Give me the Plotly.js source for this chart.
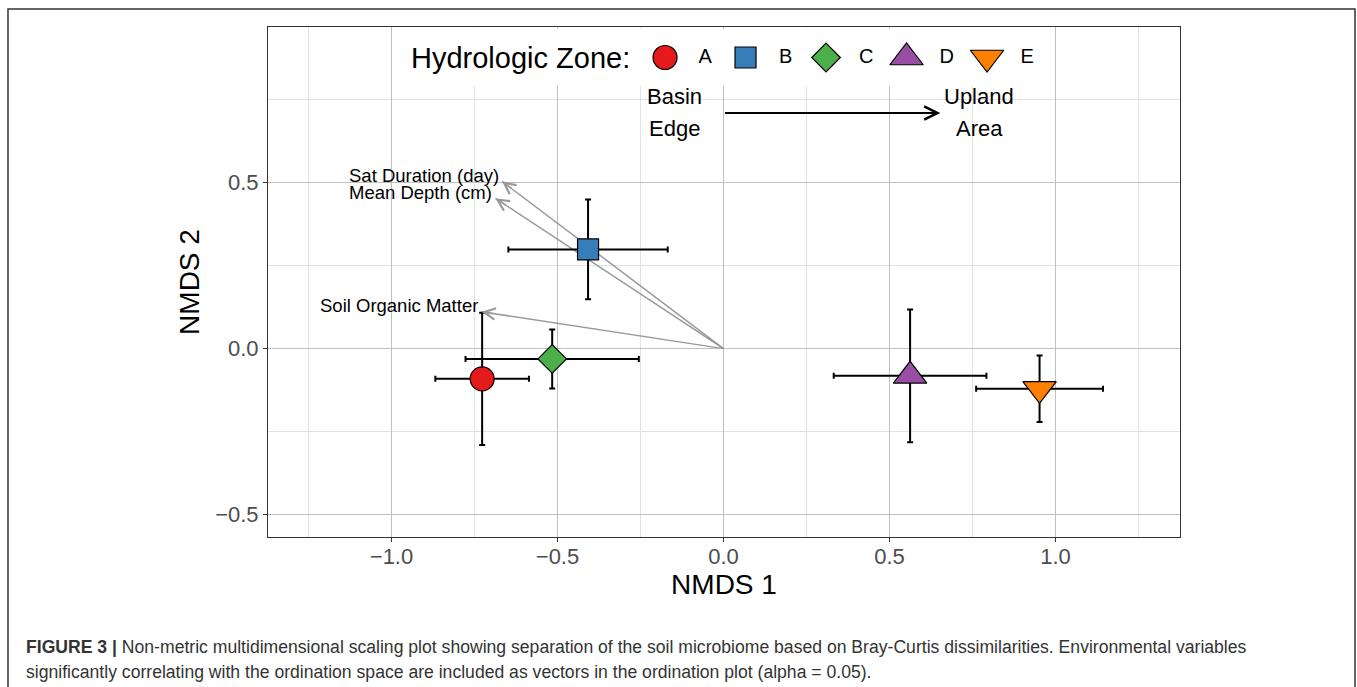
<!DOCTYPE html>
<html>
<head>
<meta charset="utf-8">
<script src="https://cdn.plot.ly/plotly-3.0.1.min.js"></script>
<style>
html, body { margin: 0; padding: 0; background: #fff; }
#chart { width: 1357px; height: 687px; }
</style>
</head>
<body>
<div id="chart"></div>
<script>
// ---------- data ----------
const zones = ['A', 'B', 'C', 'D', 'E'];
const nmds1 = [-0.727, -0.408, -0.516, 0.562, 0.952];
const nmds2 = [-0.091, 0.299, -0.031, -0.082, -0.121];
const nmds1Err = [0.141, 0.240, 0.261, 0.230, 0.191];
const nmds2Err = [0.199, 0.150, 0.089, 0.200, 0.100];

const envVars = ['Sat Duration (day)', 'Mean Depth (cm)', 'Soil Organic Matter'];
const envNmds1 = [-0.667, -0.687, -0.729];
const envNmds2 = [0.504, 0.453, 0.111];

const gradientLabels = [['Basin', 'Edge'], ['Upland', 'Area']];
const gradientLabelX = [-0.148, 0.771];
const gradientArrowX = [0.0, 0.653];
const gradientY = 0.71;

const xTickVals = [-1.0, -0.5, 0.0, 0.5, 1.0];
const xTickText = ['\u22121.0', '\u22120.5', '0.0', '0.5', '1.0'];
const xMinorVals = [-1.25, -0.75, -0.25, 0.25, 0.75, 1.25];
const yTickVals = [-0.5, 0.0, 0.5];
const yTickText = ['\u22120.5', '0.0', '0.5'];
const yMinorVals = [-0.25, 0.25, 0.75];

const legendTitle = 'Hydrologic Zone:';
const captionLines = [
  '<b>FIGURE 3 |</b> Non-metric multidimensional scaling plot showing separation of the soil microbiome based on Bray-Curtis dissimilarities. Environmental variables',
  'significantly correlating with the ordination space are included as vectors in the ordination plot (alpha = 0.05).'
];

// ---------- styles ----------
const FONT = 'Liberation Sans, Arial, Helvetica, sans-serif';
const zoneColors = ['#E41A1C', '#377EB8', '#4DAF4A', '#984EA3', '#FF7F00'];
const zoneSymbols = ['circle', 'square', 'diamond', 'triangle-up', 'triangle-down'];
const zoneSizes = [24, 21, 22, 29, 29];

// legend key box (in legend-row units) used only as a white backdrop
const legendBoxX = [-3.29, 4.72];
const legendBoxY = [-0.93, 0.95];

// ---------- traces ----------
const shaftX = [], shaftY = [];
envNmds1.forEach((v, i) => { shaftX.push(0, v, null); shaftY.push(0, envNmds2[i], null); });

const markerStyle = {
  color: zoneColors, symbol: zoneSymbols, size: zoneSizes, opacity: 1,
  line: { color: '#000', width: 1.2 }
};

const traces = [
  {
    type: 'scatter', mode: 'lines', x: shaftX, y: shaftY,
    line: { color: '#9a9a9a', width: 1.5 }, hoverinfo: 'skip', showlegend: false
  },
  {
    type: 'scatter', mode: 'markers', x: nmds1, y: nmds2, text: zones,
    error_x: { type: 'data', array: nmds1Err, color: '#000', thickness: 2, width: 3 },
    error_y: { type: 'data', array: nmds2Err, color: '#000', thickness: 2, width: 3 },
    marker: markerStyle, showlegend: false, cliponaxis: false
  },
  {
    type: 'scatter', mode: 'lines', xaxis: 'x2', yaxis: 'y2',
    x: [legendBoxX[0], legendBoxX[1], legendBoxX[1], legendBoxX[0], legendBoxX[0]],
    y: [legendBoxY[0], legendBoxY[0], legendBoxY[1], legendBoxY[1], legendBoxY[0]],
    fill: 'toself', fillcolor: '#ffffff', line: { width: 0, color: 'rgba(0,0,0,0)' },
    hoverinfo: 'skip', showlegend: false
  },
  {
    type: 'scatter', mode: 'markers', xaxis: 'x2', yaxis: 'y2',
    x: zones.map((z, i) => i), y: zones.map(() => 0),
    marker: markerStyle, showlegend: false, hoverinfo: 'skip', cliponaxis: false
  },
  {
    type: 'scatter', mode: 'text', xaxis: 'x2', yaxis: 'y2',
    x: zones.map((z, i) => i + 0.5), y: zones.map(() => 0), text: zones,
    textposition: 'middle center', textfont: { size: 20, color: '#000', family: FONT },
    showlegend: false, hoverinfo: 'skip', cliponaxis: false
  }
];

// ---------- annotations ----------
const annotations = [];
const HEAD = 14;
envVars.forEach((name, i) => {
  const x = envNmds1[i], y = envNmds2[i];
  const n = Math.sqrt(x * x + y * y);
  annotations.push({
    x: x, y: y, xref: 'x', yref: 'y', axref: 'pixel', ayref: 'pixel',
    ax: -x / n * HEAD, ay: y / n * HEAD, text: '', showarrow: true,
    arrowhead: 5, arrowsize: 1.5, arrowwidth: 1.5, arrowcolor: '#9a9a9a', standoff: 0, startstandoff: 0
  });
  annotations.push({
    x: x, y: y, xref: 'x', yref: 'y', text: name, showarrow: false,
    xanchor: 'right', yanchor: 'middle', xshift: -1, yshift: 6,
    font: { size: 18.5, color: '#000', family: FONT }
  });
});

annotations.push({
  x: gradientArrowX[1], y: gradientY, xref: 'x', yref: 'y',
  ax: gradientArrowX[0], ay: gradientY, axref: 'x', ayref: 'y',
  text: '', showarrow: true, arrowhead: 5, arrowsize: 1.3, arrowwidth: 2, arrowcolor: '#000',
  standoff: 0, startstandoff: 0
});
gradientLabels.forEach((lines, i) => {
  lines.forEach((ln, j) => {
    annotations.push({
      x: gradientLabelX[i], y: gradientY, xref: 'x', yref: 'y', text: ln, showarrow: false,
      xanchor: 'center', yanchor: 'middle', yshift: j === 0 ? 16 : -16,
      font: { size: 22, color: '#000', family: FONT }
    });
  });
});

annotations.push({
  x: -0.41, y: 0, xref: 'x2', yref: 'y2', text: legendTitle, showarrow: false,
  xanchor: 'right', yanchor: 'middle', font: { size: 29, color: '#000', family: FONT }
});

captionLines.forEach((ln, i) => {
  annotations.push({
    x: -0.2675, y: i === 0 ? -0.2157 : -0.2647, xref: 'paper', yref: 'paper',
    text: ln, showarrow: false, xanchor: 'left', yanchor: 'middle', align: 'left',
    font: { size: 17.6, color: '#333333', family: FONT }
  });
});

// ---------- layout ----------
const axisCommon = {
  tickmode: 'array', ticks: 'outside', ticklen: 4, tickwidth: 1, tickcolor: '#333',
  tickfont: { size: 22, color: '#4d4d4d', family: FONT },
  showgrid: true, gridcolor: '#c0c0c0', gridwidth: 1.5,
  zeroline: false, showline: true, mirror: true, linecolor: '#333', linewidth: 1,
  automargin: false, fixedrange: true
};

const layout = {
  width: 1357, height: 687,
  margin: { l: 268, r: 177, t: 27, b: 150 },
  paper_bgcolor: '#fff', plot_bgcolor: 'rgba(0,0,0,0)',
  font: { family: FONT, color: '#000' },
  showlegend: false,
  xaxis: Object.assign({}, axisCommon, {
    range: [-1.372, 1.375], tickvals: xTickVals, ticktext: xTickText, ticklabelstandoff: -4,
    minor: { tickvals: xMinorVals, showgrid: true, gridcolor: '#e2e2e2', gridwidth: 1, ticks: '' },
    title: { text: 'NMDS 1', font: { size: 28, color: '#000', family: FONT }, standoff: 3 }
  }),
  yaxis: Object.assign({}, axisCommon, {
    range: [-0.5675, 0.969], tickvals: yTickVals, ticktext: yTickText,
    minor: { tickvals: yMinorVals, showgrid: true, gridcolor: '#e2e2e2', gridwidth: 1, ticks: '' },
    title: { text: 'NMDS 2', font: { size: 28, color: '#000', family: FONT }, standoff: 7 }
  }),
  xaxis2: { domain: [0, 1], range: [-4.932, 6.397], anchor: 'y2', visible: false, fixedrange: true },
  yaxis2: { domain: [0.8804, 1], range: [-1, 1], anchor: 'x2', visible: false, fixedrange: true },
  shapes: [
    {
      type: 'rect', xref: 'paper', yref: 'paper', x0: -0.2851, x1: 1.1919, y0: -0.36, y1: 1.0353,
      line: { color: '#333', width: 1.5 }, fillcolor: 'rgba(0,0,0,0)', layer: 'above'
    }
  ],
  annotations: annotations
};

Plotly.newPlot('chart', traces, layout, { staticPlot: true, displayModeBar: false });
</script>
</body>
</html>
